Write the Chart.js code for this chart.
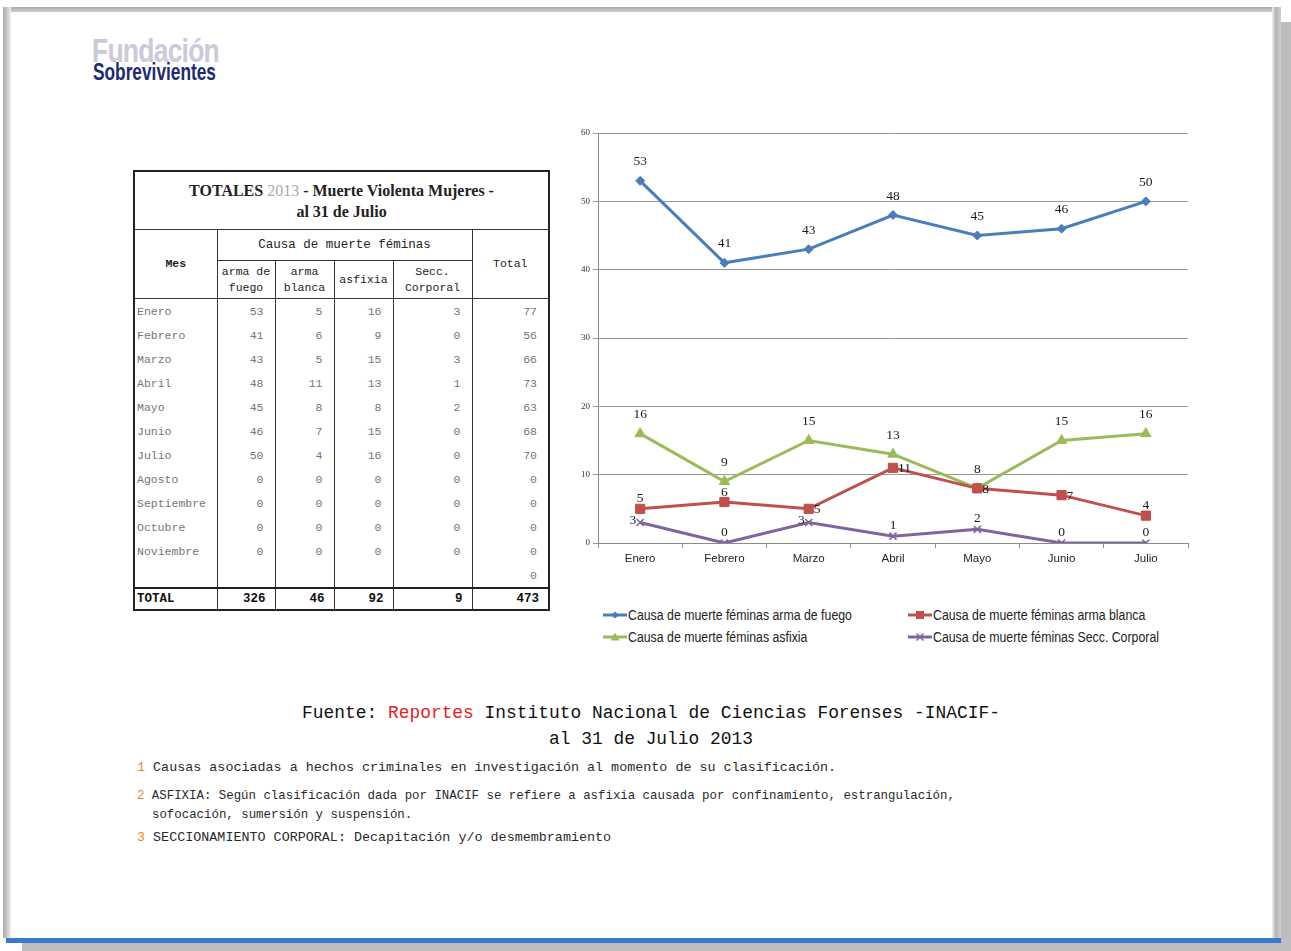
<!DOCTYPE html>
<html lang="es">
<head>
<meta charset="utf-8">
<script src="https://cdn.jsdelivr.net/npm/chart.js@4/dist/chart.umd.min.js"></script>
<style>
  html, body { margin:0; padding:0; }
  body { width:1291px; height:951px; position:relative; overflow:hidden; background:#fff; }
  .abs { position:absolute; }
  #frameTop { left:3px; top:7px; width:1278px; height:5px; background:linear-gradient(#a9a9a9,#cfcfcf); }
  #frameLeft { left:3px; top:7px; width:8px; height:931px; background:linear-gradient(90deg,#a9a9a9,#d6d6d6 70%,#f2f2f2); }
  #frameRight { left:1272px; top:7px; width:9px; height:931px; background:linear-gradient(90deg,#f0f0f0,#b4b4b4 40%,#cfcfcf); }
  #shadowRight { left:1281px; top:22px; width:10px; height:929px; background:#bdbdbd; }
  #frameBottom { left:6px; top:938px; width:1275px; height:5px; background:#3b78d6; }
  #shadowBottom { left:22px; top:943px; width:1269px; height:8px; background:#bdbdbd; }
  #logo1 { left:92px; top:31px; font-family:"Liberation Sans Narrow","Liberation Sans",Arial,sans-serif; font-weight:bold; font-size:34px; color:#cdc9da; letter-spacing:-1px; transform:scaleX(0.78); transform-origin:left top; }
  #logo2 { left:93px; top:58px; font-family:"Liberation Sans Narrow","Liberation Sans",Arial,sans-serif; font-weight:bold; font-size:24px; color:#1c2a70; transform:scaleX(0.72); transform-origin:left top; }
  #tbl { left:133px; top:170px; border-collapse:collapse; table-layout:fixed; width:415px; border:2px solid #222; }
  #tbl td { padding:0; border-left:1px solid #333; border-right:1px solid #333; font-family:"Liberation Mono","DejaVu Sans Mono",monospace; }
  #tbl td.title { height:57px; border-bottom:1px solid #333; text-align:center; font-family:"Liberation Serif","DejaVu Serif",serif; font-weight:bold; font-size:16px; line-height:21px; color:#222; }
  #tbl td.title .yr { color:#aaa; font-weight:normal; }
  #tbl td.h { text-align:center; font-size:11.5px; color:#222; line-height:16px; border-bottom:1px solid #333; }
  #tbl td.hb { font-weight:bold; }
  #tbl td.hc { font-size:12.5px; }
  #tbl td.b { height:24px; font-size:11.5px; color:#757575; text-align:right; padding-right:11px; }
  #tbl td.m { text-align:left; padding-left:2px; padding-right:0; }
  #tbl tr.tot td { height:20px; border-top:2px solid #222; font-weight:bold; font-size:12.5px; color:#111; text-align:right; padding-right:9px; }
  #tbl tr.tot td.m { text-align:left; padding-left:2px; }
  #chartBox { left:570px; top:123px; width:628px; height:450px; }
  #legend { left:603px; top:607px; width:600px; font-family:"Liberation Sans Narrow","Liberation Sans",Arial,sans-serif; font-size:14px; color:#222; }
  .li { position:absolute; white-space:nowrap; display:flex; align-items:center; }
  .li span { display:inline-block; transform:scaleX(0.88); transform-origin:left center; }
  .li svg { margin-right:1px; }
  #fuente { left:250px; top:700px; width:802px; text-align:center; font-family:"Liberation Mono","DejaVu Sans Mono",monospace; font-size:17.9px; line-height:26px; color:#111; }
  #fuente .red { color:#e32222; }
  .fn { font-family:"Liberation Mono","DejaVu Sans Mono",monospace; color:#2a2a2a; white-space:nowrap; }
  .num { color:#e3882a; }
</style>
</head>
<body>
<div id="frameTop" class="abs"></div>
<div id="frameLeft" class="abs"></div>
<div id="frameRight" class="abs"></div>
<div id="shadowRight" class="abs"></div>
<div id="frameBottom" class="abs"></div>
<div id="shadowBottom" class="abs"></div>

<div id="logo1" class="abs">Fundación</div>
<div id="logo2" class="abs">Sobrevivientes</div>

<table id="tbl" class="abs"></table>

<div id="chartBox" class="abs"><canvas id="c"></canvas></div>
<div id="legend" class="abs"></div>

<div id="fuente" class="abs">Fuente: <span class="red">Reportes</span> Instituto Nacional de Ciencias Forenses -INACIF-<br>al 31 de Julio 2013</div>

<div class="abs fn" style="left:137px;top:760px;font-size:13.4px;"><span class="num">1</span> Causas asociadas a hechos criminales en investigación al momento de su clasificación.</div>
<div class="abs fn" style="left:137px;top:787px;font-size:12.4px;line-height:19px;"><span class="num">2</span> ASFIXIA: Según clasificación dada por INACIF se refiere a asfixia causada por confinamiento, estrangulación,<br><span style="padding-left:15px">sofocación, sumersión y suspensión.</span></div>
<div class="abs fn" style="left:137px;top:830px;font-size:13.4px;"><span class="num">3</span> SECCIONAMIENTO CORPORAL: Decapitación y/o desmembramiento</div>

<script>
// ---- Data ----
const meses = ['Enero','Febrero','Marzo','Abril','Mayo','Junio','Julio','Agosto','Septiembre','Octubre','Noviembre'];
const armaFuego    = [53, 41, 43, 48, 45, 46, 50, 0, 0, 0, 0];
const armaBlanca   = [5, 6, 5, 11, 8, 7, 4, 0, 0, 0, 0];
const asfixia      = [16, 9, 15, 13, 8, 15, 16, 0, 0, 0, 0];
const seccCorporal = [3, 0, 3, 1, 2, 0, 0, 0, 0, 0, 0];
const totalMes     = [77, 56, 66, 73, 63, 68, 70, 0, 0, 0, 0];
const totalFila    = [326, 46, 92, 9, 473];
const chartMeses   = ['Enero','Febrero','Marzo','Abril','Mayo','Junio','Julio'];
const chartFuego   = [53, 41, 43, 48, 45, 46, 50];
const chartBlanca  = [5, 6, 5, 11, 8, 7, 4];
const chartAsfixia = [16, 9, 15, 13, 8, 15, 16];
const chartSecc    = [3, 0, 3, 1, 2, 0, 0];
const yTicks       = [0, 10, 20, 30, 40, 50, 60];
const seriesNames  = ['Causa de muerte féminas arma de fuego','Causa de muerte féminas arma blanca','Causa de muerte féminas asfixia','Causa de muerte féminas Secc. Corporal'];

// ---- Table ----
(function buildTable(){
  const t = document.getElementById('tbl');
  let h = '<colgroup><col style="width:83px"><col style="width:58px"><col style="width:59px"><col style="width:59px"><col style="width:79px"><col style="width:77px"></colgroup>';
  h += '<tr><td class="title" colspan="6">TOTALES <span class="yr">2013</span> - Muerte Violenta Mujeres -<br>al 31 de Julio</td></tr>';
  h += '<tr><td class="h hb" rowspan="2">Mes</td><td class="h hc" colspan="4" style="height:30px">Causa de muerte féminas</td><td class="h" rowspan="2">Total</td></tr>';
  h += '<tr><td class="h" style="height:37px">arma de<br>fuego</td><td class="h">arma<br>blanca</td><td class="h">asfixia</td><td class="h">Secc.<br>Corporal</td></tr>';
  for (let i = 0; i < meses.length; i++) {
    h += '<tr><td class="b m">' + meses[i] + '</td><td class="b">' + armaFuego[i] + '</td><td class="b">' + armaBlanca[i] +
         '</td><td class="b">' + asfixia[i] + '</td><td class="b">' + seccCorporal[i] + '</td><td class="b">' + totalMes[i] + '</td></tr>';
  }
  h += '<tr><td class="b m"></td><td class="b"></td><td class="b"></td><td class="b"></td><td class="b"></td><td class="b">0</td></tr>';
  h += '<tr class="tot"><td class="m">TOTAL</td>' + totalFila.map(v => '<td>' + v + '</td>').join('') + '</tr>';
  t.innerHTML = h;
})();

// ---- Chart ----
const colors = ['#4a7ebb', '#c0504d', '#9bbb59', '#8064a2'];
const labelPos = [
  ['top','top','top','top','top','top','top'],
  ['top','top','right','right','right','right','top'],
  ['top','top','top','top','top','top','top'],
  ['left','top','left','top','top','top','top']
];
const labelOff = [19, 10, 19, 11];

const dataLabels = {
  id: 'dataLabels',
  afterDatasetsDraw(chart) {
    const ctx = chart.ctx;
    ctx.save();
    ctx.font = '13.5px "Liberation Serif", "DejaVu Serif", serif';
    ctx.fillStyle = '#1a1a1a';
    ctx.textBaseline = 'middle';
    chart.data.datasets.forEach((ds, di) => {
      const meta = chart.getDatasetMeta(di);
      meta.data.forEach((pt, i) => {
        const p = labelPos[di][i];
        let x = pt.x, y = pt.y;
        if (p === 'top') { ctx.textAlign = 'center'; y -= labelOff[di]; }
        else if (p === 'right') { ctx.textAlign = 'left'; x += 5; y += 1; }
        else { ctx.textAlign = 'right'; x -= 4; y -= 2; }
        ctx.fillText(String(ds.data[i]), x, y);
      });
    });
    ctx.restore();
  }
};

const styles = [
  { pointStyle:'rectRot', pointRadius:4.5 },
  { pointStyle:'rect', pointRadius:6.5 },
  { pointStyle:'triangle', pointRadius:6 },
  { pointStyle:'crossRot', pointRadius:5 }
];
const seriesData = [chartFuego, chartBlanca, chartAsfixia, chartSecc];

new Chart(document.getElementById('c'), {
  type: 'line',
  data: {
    labels: chartMeses,
    datasets: seriesData.map((d, i) => ({
      label: seriesNames[i],
      data: d,
      borderColor: colors[i],
      backgroundColor: colors[i],
      pointBackgroundColor: colors[i],
      pointBorderColor: colors[i],
      pointBorderWidth: i === 3 ? 1.6 : 1,
      borderWidth: 3,
      tension: 0,
      fill: false,
      pointStyle: styles[i].pointStyle,
      pointRadius: styles[i].pointRadius
    }))
  },
  options: {
    responsive: true,
    maintainAspectRatio: false,
    animation: false,
    layout: { padding: { top: 10, right: 10, left: 0, bottom: 0 } },
    plugins: { legend: { display: false }, tooltip: { enabled: false } },
    scales: {
      x: {
        offset: true,
        grid: { drawOnChartArea: false, drawTicks: true, tickLength: 5, color: '#8a8a8a', offset: true },
        border: { display: true, color: '#8a8a8a', width: 1 },
        ticks: { color: '#222', padding: 4, font: { family: '"Liberation Sans Narrow", "Liberation Sans", Arial, sans-serif', size: 11.5 } },
        afterFit(s) { s.height = 30; }
      },
      y: {
        min: 0, max: 60,
        afterBuildTicks(s) { s.ticks = yTicks.map(v => ({ value: v })); },
        grid: { color: '#9a9a9a', tickLength: 5, lineWidth: 1 },
        border: { display: true, color: '#8a8a8a' },
        ticks: { color: '#333', padding: 3, font: { family: '"Liberation Serif", "DejaVu Serif", serif', size: 9 } },
        afterFit(s) { s.width = 28; }
      }
    }
  },
  plugins: [dataLabels]
});

// ---- Legend (built from series names / colours) ----
(function buildLegend(){
  const lg = document.getElementById('legend');
  const pos = [[0,0],[305,0],[0,22],[305,22]];
  const marker = [
    '<polygon points="12,1.5 16,5 12,8.5 8,5" fill="COL"/>',
    '<rect x="8" y="1" width="8" height="8" fill="COL"/>',
    '<polygon points="12,0.5 16.5,8.5 7.5,8.5" fill="COL"/>',
    '<path d="M8.5,1.5 L15.5,8.5 M15.5,1.5 L8.5,8.5" stroke="COL" stroke-width="1.5"/>'
  ];
  seriesNames.forEach((n, i) => {
    const d = document.createElement('div');
    d.className = 'li';
    d.style.left = pos[i][0] + 'px';
    d.style.top = pos[i][1] + 'px';
    d.innerHTML = '<svg width="24" height="10"><line x1="0" y1="5" x2="24" y2="5" stroke="' + colors[i] + '" stroke-width="3"/>' +
      marker[i].replace(/COL/g, colors[i]) + '</svg><span>' + n + '</span>';
    lg.appendChild(d);
  });
})();
</script>
</body>
</html>
